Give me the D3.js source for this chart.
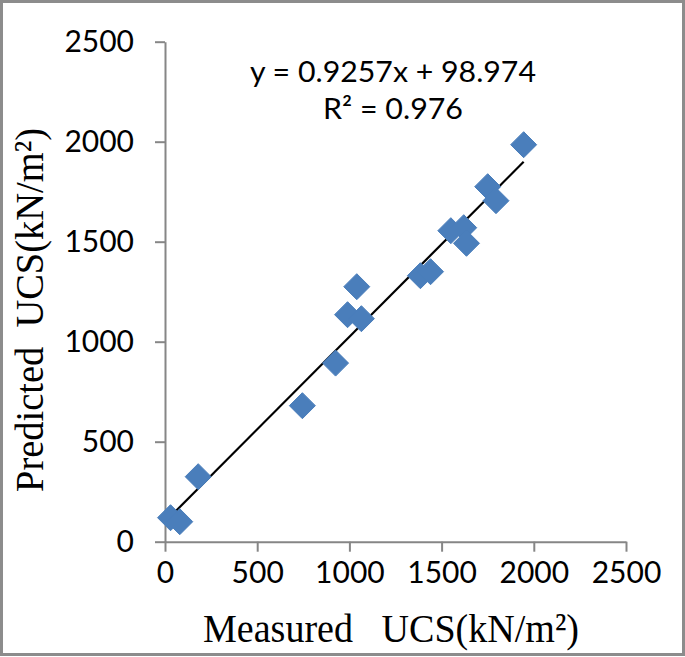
<!DOCTYPE html>
<html>
<head>
<meta charset="utf-8">
<script src="https://cdn.jsdelivr.net/npm/d3@7"></script>
<style>
  body { margin: 0; background: #fff; }
  svg { display: block; }
</style>
</head>
<body>
<script>
// Chart data
var measured  = [30, 80, 180, 745, 925, 990, 1065, 1040, 1385, 1440, 1550, 1620, 1635, 1750, 1795, 1945];
var predicted = [120, 100, 325, 680, 893, 1135, 1115, 1275, 1330, 1350, 1555, 1570, 1492, 1775, 1705, 1985];
var xTicks = [0, 500, 1000, 1500, 2000, 2500];
var yTicks = [0, 500, 1000, 1500, 2000, 2500];
var slope = 0.9257;
var intercept = 98.974;

var svgWidth = 685;
var svgHeight = 657;

var chartMargin = { top: 41.7, right: 59, bottom: 115.3, left: 165 };
var chartWidth = svgWidth - chartMargin.left - chartMargin.right;
var chartHeight = svgHeight - chartMargin.top - chartMargin.bottom;

var svg = d3.select("body")
  .append("svg")
  .attr("width", svgWidth)
  .attr("height", svgHeight);

// outer frame
svg.append("rect")
  .attr("x", 1.5).attr("y", 1.5)
  .attr("width", svgWidth - 3).attr("height", svgHeight - 4)
  .attr("fill", "none")
  .attr("stroke", "#8c8c8c")
  .attr("stroke-width", 3);

var chartGroup = svg.append("g")
  .attr("transform", `translate(${chartMargin.left}, ${chartMargin.top})`);

var xScale = d3.scaleLinear().domain([0, 2500]).range([0, chartWidth]);
var yScale = d3.scaleLinear().domain([0, 2500]).range([chartHeight, 0]);

var bottomAxis = d3.axisBottom(xScale).tickValues(xTicks).tickFormat(d3.format("d"))
  .tickSizeInner(10).tickSizeOuter(0).tickPadding(10);
var leftAxis = d3.axisLeft(yScale).tickValues(yTicks).tickFormat(d3.format("d"))
  .tickSizeInner(10).tickSizeOuter(0).tickPadding(21);

function styleAxis(g) {
  g.selectAll("path, line").attr("stroke", "#868686").attr("stroke-width", 2);
  g.selectAll("text")
    .attr("fill", "#000")
    .style("font-family", "Lato, 'Open Sans', sans-serif")
    .style("font-size", "30px");
}

chartGroup.append("g").call(leftAxis).call(styleAxis);

chartGroup.append("g")
  .attr("transform", `translate(0, ${chartHeight})`)
  .call(bottomAxis)
  .call(styleAxis);

// trend line across the range of the data
var xExtent = d3.extent(measured);
var drawLine = d3.line()
  .x(d => xScale(d))
  .y(d => yScale(slope * d + intercept));

chartGroup.append("path")
  .attr("d", drawLine(xExtent))
  .attr("fill", "none")
  .attr("stroke", "#000")
  .attr("stroke-width", 2.2);

// diamond markers
var points = measured.map((m, i) => ({ x: m, y: predicted[i] }));
var half = 13;

chartGroup.selectAll(".pt")
  .data(points)
  .enter()
  .append("path")
  .attr("class", "pt")
  .attr("transform", d => `translate(${xScale(d.x)}, ${yScale(d.y)})`)
  .attr("d", `M0,${-half}L${half},0L0,${half}L${-half},0Z`)
  .attr("fill", "#4a7ebb")
  .attr("stroke", "#4a7ebb")
  .attr("stroke-width", 1)
  .attr("stroke-linejoin", "round");

// equation label
var eq = svg.append("g")
  .style("font-family", "Lato, 'Open Sans', sans-serif")
  .style("font-size", "29px")
  .attr("text-anchor", "middle")
  .attr("fill", "#000");

eq.append("text")
  .attr("x", 393).attr("y", 82)
  .attr("textLength", 286)
  .attr("lengthAdjust", "spacingAndGlyphs")
  .text("y = 0.9257x + 98.974");

eq.append("text")
  .attr("x", 393).attr("y", 119)
  .attr("textLength", 140)
  .attr("lengthAdjust", "spacingAndGlyphs")
  .text("R\u00b2 = 0.976");

// axis titles
svg.append("text")
  .attr("x", 391).attr("y", 642)
  .attr("text-anchor", "middle")
  .attr("textLength", 376)
  .attr("lengthAdjust", "spacingAndGlyphs")
  .style("font-family", "'Liberation Serif', 'Times New Roman', serif")
  .style("font-size", "41px")
  .style("white-space", "pre")
  .attr("fill", "#000")
  .text("Measured   UCS(kN/m\u00b2)");

svg.append("text")
  .attr("transform", "translate(43, 310) rotate(-90)")
  .attr("text-anchor", "middle")
  .attr("textLength", 364)
  .attr("lengthAdjust", "spacingAndGlyphs")
  .style("font-family", "'Liberation Serif', 'Times New Roman', serif")
  .style("font-size", "41px")
  .style("white-space", "pre")
  .attr("fill", "#000")
  .text("Predicted  UCS(kN/m\u00b2)");
</script>
</body>
</html>
